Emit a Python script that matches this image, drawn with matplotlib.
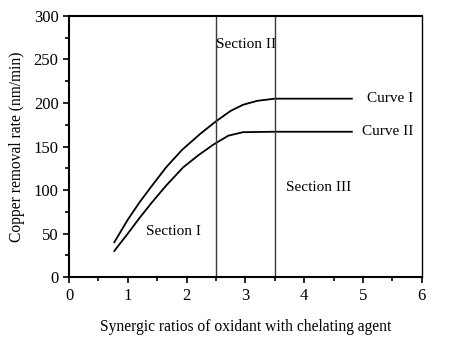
import matplotlib.pyplot as plt
from matplotlib.ticker import MultipleLocator

plt.rcParams['font.family'] = ['Liberation Serif', 'DejaVu Serif']

# copper removal rate vs. synergic ratio
ratio_1 = [0.77, 1.0, 1.2, 1.4, 1.65, 1.92, 2.23, 2.5, 2.75, 2.96, 3.2, 3.5, 4.0, 4.81]
rate_1 = [40, 66, 86, 104, 126, 146, 164.5, 179, 191, 198, 202.5, 205, 205, 205]
ratio_2 = [0.77, 1.0, 1.2, 1.4, 1.65, 1.94, 2.2, 2.45, 2.71, 2.96, 3.5, 4.0, 4.81]
rate_2 = [30, 50, 68, 85, 105, 126, 140, 152, 162.5, 166.5, 167, 167, 167]

section_bounds = [2.5, 3.5]
section_labels = ['Section I', 'Section II', 'Section III']
section_pos = [(1.77, 52), (2.5, 267), (4.25, 103)]
curve_labels = ['Curve I', 'Curve II']

fig = plt.figure(figsize=(4.57, 3.4), dpi=100)
ax = fig.add_axes([0.151, 0.185, 0.772, 0.768])

ax.plot(ratio_1, rate_1, color='black', lw=1.3)
ax.plot(ratio_2, rate_2, color='black', lw=1.3)

for xb in section_bounds:
    ax.axvline(xb, color='#3a3a3a', lw=1.0)

ax.text(*section_pos[0], section_labels[0], fontsize=11, ha='center', va='center')
ax.text(*section_pos[1], section_labels[1], fontsize=11, ha='left', va='center')
ax.text(*section_pos[2], section_labels[2], fontsize=11, ha='center', va='center')

ax.text(5.86, rate_1[-1], curve_labels[0], fontsize=11, ha='right', va='center')
ax.text(5.86, rate_2[-1], curve_labels[1], fontsize=11, ha='right', va='center')

ax.set_xlim(0, 6)
ax.set_ylim(0, 300)
ax.xaxis.set_major_locator(MultipleLocator(1))
ax.xaxis.set_minor_locator(MultipleLocator(0.5))
ax.yaxis.set_major_locator(MultipleLocator(50))
ax.yaxis.set_minor_locator(MultipleLocator(25))
ax.tick_params(which='both', direction='out', width=1.2, labelsize=12)
ax.tick_params(which='major', length=4)
ax.tick_params(which='minor', length=3)

for side in ['left', 'bottom', 'top']:
    ax.spines[side].set_linewidth(1.5)
ax.spines['right'].set_linewidth(1.0)

ax.set_xlabel('Synergic ratios of oxidant with chelating agent', fontsize=11.2, labelpad=11)
ax.set_ylabel('Copper removal rate (nm/min)', fontsize=11.2, labelpad=6)

fig.savefig('out.png', dpi=100)
